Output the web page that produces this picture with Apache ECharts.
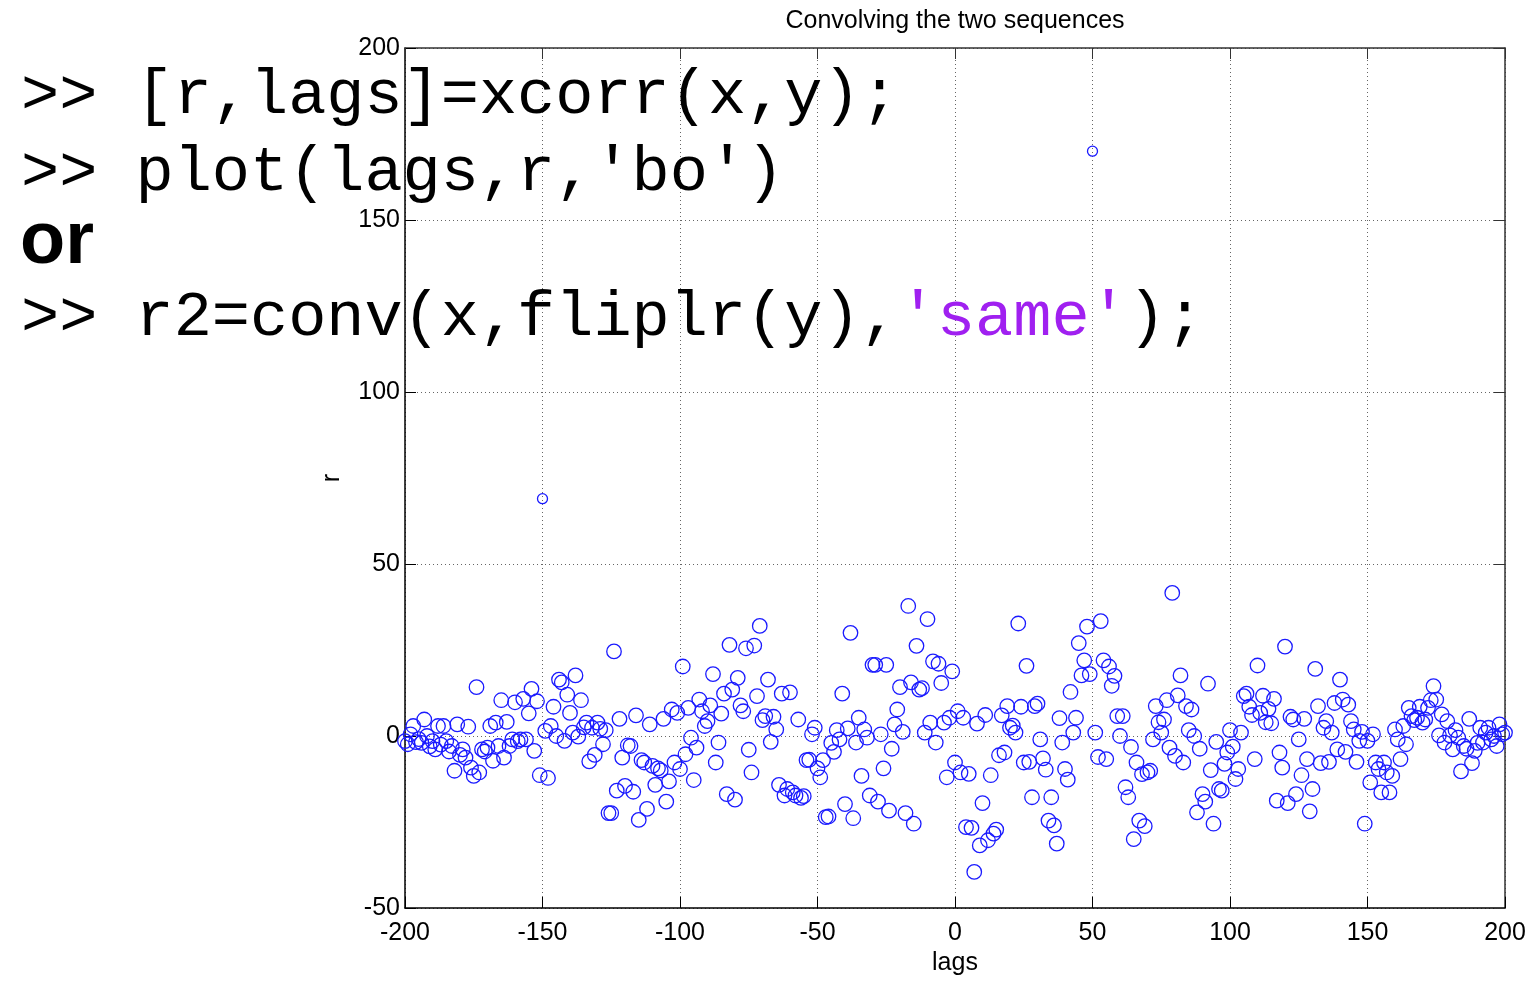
<!DOCTYPE html>
<html>
<head>
<meta charset="utf-8">
<title>Convolving the two sequences</title>
<script src="https://cdn.jsdelivr.net/npm/echarts@6/dist/echarts.min.js"></script>
<style>
  html, body { margin: 0; padding: 0; background: #ffffff; }
  #chart { width: 1530px; height: 981px; }
</style>
</head>
<body>
<div id="chart"></div>
<script>
// Cross-correlation r of the two sequences at lags -200 .. 200
const lagStart = -200;
const r = [
  // -200 .. -191
  -1.5, -2.4, 0.5, 2.9, -1.8, -0.9, -2, 4.8, 0, -3,
  // -190 .. -181
  -1.5, -3.9, 2.9, -2.5, 2.9, -1.5, -4.5, -2.9, -10.1, 3.4,
  // -180 .. -171
  -5.5, -3.9, -6.3, 2.7, -9.2, -11.6, 14.2, -10.6, -3.9, -4.5,
  // -170 .. -161
  -3.4, 2.9, -7.2, 3.9, -2.9, 10.4, -6.3, 4.1, -2.9, -1,
  // -160 .. -151
  9.8, -1.5, -1, 10.8, -1, 6.6, 13.7, -4.3, 10.1, -11.4,
  // -150 .. -141
  69, 1.5, -12.2, 2.9, 8.5, 0, 16.4, 15.6, -1.4, 12,
  // -140 .. -131
  6.7, 1, 17.6, -0.2, 10.4, 2.5, 3.9, -7.4, 2.4, -5.5,
  // -130 .. -121
  3.9, 2.1, -2.4, 1.7, -22.4, -22.4, 24.6, -15.9, 5, -6.3,
  // -120 .. -111
  -14.5, -2.7, -2.9, -16.2, 6, -24.4, -7, -7.7, -21.2, 3.4,
  // -110 .. -101
  -8.7, -14.2, -9.4, -10, 5, -19.1, -13.2, 7.7, -7.7, 6.7,
  // -100 .. -91
  -9.6, 20.2, -5.3, 8.2, -0.5, -12.8, -3.4, 10.6, 7.2, 2.9,
  // -90 .. -81
  4.3, 8.9, 18, -7.7, -1.9, 6.5, 12.3, -16.9, 26.5, 13.5,
  // -80 .. -71
  -18.5, 16.9, 8.9, 7.2, 25.5, -4, -10.6, 26.3, 11.6, 32,
  // -70 .. -61
  4.6, 5.8, 16.4, -1.7, 5.6, 1.9, -14.2, 12.3, -17.3, -15.4,
  // -60 .. -51
  12.7, -16.4, -17.3, 4.8, -18, -17.5, -7, -6.9, 0.5, 2.4,
  // -50 .. -41
  -9.4, -12, -7, -23.6, -23.4, -2, -4.6, 1.7, -1, 12.3,
  // -40 .. -31
  -19.8, 2.2, 30, -23.9, -1.9, 5.3, -11.6, 1.9, -0.5, -17.3,
  // -30 .. -21
  20.7, 20.7, -19.1, 0.5, -9.4, 20.7, -21.7, -3.7, 3.4, 7.7,
  // -20 .. -11
  14.2, 1.2, -22.4, 37.8, 15.6, -25.5, 26.2, 13.5, 13.9, 1,
  // -10 .. -1
  34, 3.9, 21.7, -1.9, 21, 15.4, 3.9, -12, 5.3, 18.8,
  // 0 .. 9
  -7.7, 7.2, -10.6, 5.3, -26.5, -11, -26.7, -39.5, 3.6, -31.8,
  // 10 .. 19
  -19.5, 6.1, -30.3, -11.4, -28.4, -27.2, -5.6, 6, -4.8, 8.7,
  // 20 .. 29
  2.4, 3, 1, 32.7, 8.5, -7.7, 20.4, -7.5, -17.8, 8.7,
  // 30 .. 39
  9.4, -1, -6.5, -9.8, -24.6, -17.8, -26, -31.3, 5.2, -1.9,
  // 40 .. 49
  -9.6, -12.7, 12.8, 1, 5.3, 27, 17.6, 22, 31.8, 18,
  // 50 .. 59
  170, 1, -6.1, 33.4, 22, -6.7, 20.2, 14.6, 17.5, 5.8,
  // 60 .. 69
  0, 5.8, -14.9, -17.8, -3.2, -30, -7.7, -24.6, -11.1, -26.2,
  // 70 .. 79
  -10.6, -10.1, -1, 8.7, 4, 1, 4.8, 10.4, -3.4, 41.6,
  // 80 .. 89
  -5.8, 11.8, 17.6, -7.7, 8.7, 1.7, 7.7, 0, -22.2, -3.7,
  // 90 .. 99
  -16.9, -19.1, 15.2, -9.9, -25.5, -1.7, -15.4, -15.9, -8.1, -4.8,
  // 100 .. 109
  1.7, -3.1, -12.5, -9.6, 1, 11.6, 12.3, 8.5, 6.1, -6.7,
  // 110 .. 119
  20.5, 6.7, 11.7, 4, 7.9, 3.7, 10.8, -18.8, -4.8, -9.2,
  // 120 .. 129
  26, -19.5, 5.6, 4.8, -16.9, -1, -11.4, 5, -6.7, -21.9,
  // 130 .. 139
  -15.4, 19.5, 8.7, -7.9, 2.4, 4.3, -7.5, 1, 9.6, -3.9,
  // 140 .. 149
  16.4, 10.6, -4.6, 9.1, 4.3, 1.9, -7.5, -1.4, 1.2, -25.5,
  // 150 .. 159
  -1.4, -13.5, 0.5, -7.7, -9.6, -16.4, -7.7, -10.6, -16.4, -11.6,
  // 160 .. 169
  1.9, -1, -6.7, 2.9, -2.4, 8.2, 5.8, 4.6, 5.3, 8.5,
  // 170 .. 179
  3.9, 4.8, 8.2, 10.4, 14.5, 10.6, 0.2, 6.3, -1.9, 4.3,
  // 180 .. 189
  0.2, -3.9, 1.7, -0.5, -10.3, -2.9, -3.7, 5, -7.9, -4.3,
  // 190 .. 199
  -2, 2.4, -1.9, 1, 2.4, -1, 0, -2.9, 3.4, 0.5,
  // 200
  1
];
const lags = r.map((_, i) => lagStart + i);

const xTicks = [-200, -150, -100, -50, 0, 50, 100, 150, 200];
const yTicks = [-50, 0, 50, 100, 150, 200];

const titleText = 'Convolving the two sequences';
const xName = 'lags';
const yName = 'r';

// MATLAB command lines written over the figure
const codeLine1 = '>> [r,lags]=xcorr(x,y);';
const codeLine2 = ">> plot(lags,r,'bo')";
const orText = 'or';
const codeLine3a = '>> r2=conv(x,fliplr(y),';
const codeLine3b = "'same'";
const codeLine3c = ');';

const points = lags.map((lag, i) => [lag, r[i]]);

const sans = '"Liberation Sans", Arial, Helvetica, sans-serif';
const mono = '"Liberation Mono", "Courier New", monospace';
const monoSize = 63.6;

const gridLeft = 405, gridTop = 48, gridRight = 1505, gridBottom = 913;

const dotted = { type: [1, 3], color: '#666666', width: 1 };

const chart = echarts.init(document.getElementById('chart'), null, { renderer: 'canvas' });

const tickLabel = { color: '#000', fontFamily: sans, fontSize: 25 };

chart.setOption({
  animation: false,
  backgroundColor: '#ffffff',
  grid: {
    left: gridLeft,
    top: gridTop,
    right: 1530 - gridRight,
    bottom: 981 - gridBottom,
    containLabel: false,
    show: false
  },
  xAxis: [
    {
      type: 'value',
      position: 'bottom',
      min: xTicks[0],
      max: xTicks[xTicks.length - 1],
      interval: xTicks[1] - xTicks[0],
      name: xName,
      nameLocation: 'middle',
      nameGap: 43,
      nameTextStyle: { color: '#000', fontFamily: sans, fontSize: 25 },
      axisLine: { show: true, onZero: false, lineStyle: { color: '#000', width: 1.5 } },
      axisTick: { show: true, inside: true, length: 11, lineStyle: { color: '#000', width: 1 } },
      axisLabel: Object.assign({ margin: 13 }, tickLabel),
      splitLine: { show: true, lineStyle: dotted }
    },
    {
      type: 'value',
      position: 'top',
      min: xTicks[0],
      max: xTicks[xTicks.length - 1],
      interval: xTicks[1] - xTicks[0],
      axisLine: { show: true, onZero: false, lineStyle: { color: '#333', width: 1.5 } },
      axisTick: { show: true, inside: true, length: 11, lineStyle: { color: '#333', width: 1 } },
      axisLabel: { show: false },
      splitLine: { show: false }
    }
  ],
  yAxis: [
    {
      type: 'value',
      position: 'left',
      min: yTicks[0],
      max: yTicks[yTicks.length - 1],
      interval: yTicks[1] - yTicks[0],
      name: yName,
      nameLocation: 'middle',
      nameGap: 60,
      nameRotate: 90,
      nameTextStyle: { color: '#000', fontFamily: sans, fontSize: 25 },
      axisLine: { show: true, onZero: false, lineStyle: { color: '#000', width: 1.5 } },
      axisTick: { show: true, inside: true, length: 11, lineStyle: { color: '#000', width: 1 } },
      axisLabel: Object.assign({ margin: 5 }, tickLabel),
      splitLine: { show: true, lineStyle: dotted }
    },
    {
      type: 'value',
      position: 'right',
      min: yTicks[0],
      max: yTicks[yTicks.length - 1],
      interval: yTicks[1] - yTicks[0],
      axisLine: { show: true, onZero: false, lineStyle: { color: '#333', width: 1.5 } },
      axisTick: { show: true, inside: true, length: 11, lineStyle: { color: '#333', width: 1 } },
      axisLabel: { show: false },
      splitLine: { show: false }
    }
  ],
  series: [
    {
      type: 'scatter',
      xAxisIndex: 0,
      yAxisIndex: 0,
      data: points,
      symbol: 'circle',
      symbolSize: (v) => (v[1] > 60 ? 10 : 14.5),
      itemStyle: { color: 'rgba(0,0,0,0)', borderColor: '#1a1aff', borderWidth: 1.3, opacity: 1 },
      emphasis: { disabled: true },
      z: 3
    }
  ],
  graphic: [
    {
      type: 'text',
      x: 955, y: 21, z: 10,
      style: {
        text: titleText, fill: '#000', fontFamily: sans, fontSize: 25,
        align: 'center', verticalAlign: 'middle'
      }
    },
    {
      type: 'text',
      x: 21, y: 96, z: 10,
      style: { text: codeLine1, fill: '#000', fontFamily: mono, fontSize: monoSize, verticalAlign: 'middle' }
    },
    {
      type: 'text',
      x: 21, y: 173, z: 10,
      style: { text: codeLine2, fill: '#000', fontFamily: mono, fontSize: monoSize, verticalAlign: 'middle' }
    },
    {
      type: 'text',
      x: 20, y: 243, z: 10,
      style: { text: orText, fill: '#000', fontFamily: sans, fontWeight: 'bold', fontSize: 74, verticalAlign: 'middle' }
    },
    {
      type: 'text',
      x: 21, y: 318, z: 10,
      style: {
        text: codeLine3a + '{s|' + codeLine3b + '}' + codeLine3c,
        fill: '#000', fontFamily: mono, fontSize: monoSize, verticalAlign: 'middle',
        rich: { s: { fill: '#a020f0', fontFamily: mono, fontSize: monoSize } }
      }
    }
  ]
});
</script>
</body>
</html>
